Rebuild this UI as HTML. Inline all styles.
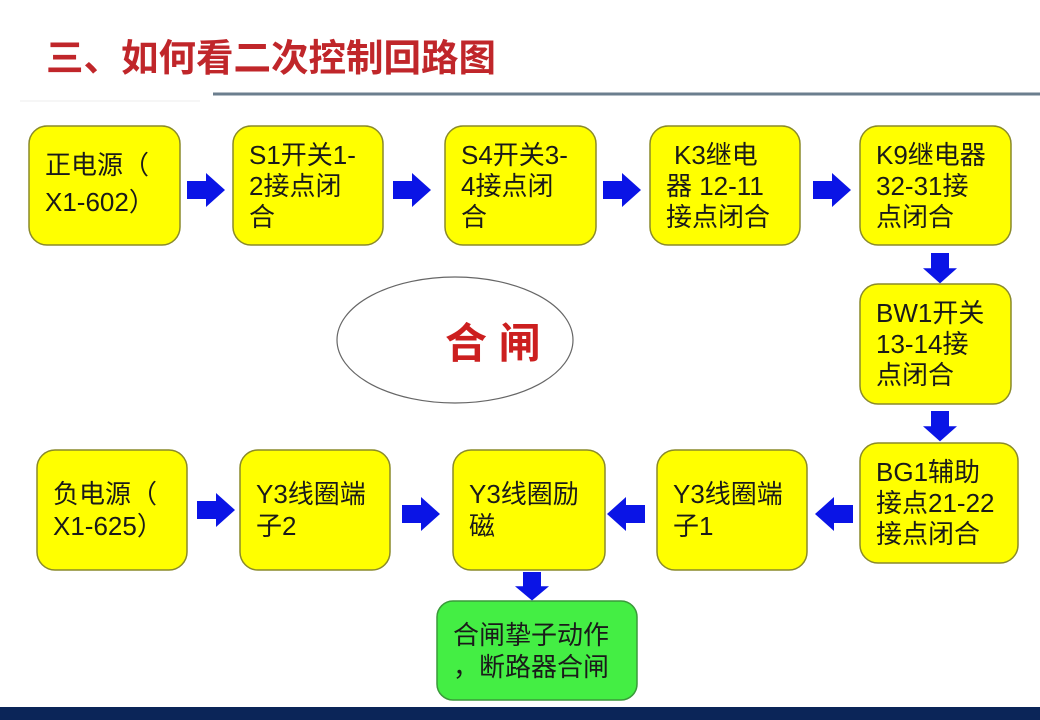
<!DOCTYPE html>
<html><head><meta charset="utf-8"><style>
html,body{margin:0;padding:0;background:#fff;}
svg{display:block;}
.t{font-family:"Liberation Sans","Noto Sans CJK SC",sans-serif;font-size:26px;fill:#1a1a1a;}
</style></head><body>
<svg width="1040" height="720" viewBox="0 0 1040 720" xmlns="http://www.w3.org/2000/svg">
<defs>
<g id="ar"><polygon points="0,-9 19,-9 19,-17 38,0 19,17 19,9 0,9" fill="#0a14e6"/></g>
</defs>
<rect width="1040" height="720" fill="#fff"/>
<text x="46" y="71" font-family="'Liberation Sans','Noto Sans CJK SC',sans-serif" font-size="37.5" font-weight="bold" fill="#c0262a">三、如何看二次控制回路图</text>
<line x1="213" y1="94" x2="1040" y2="94" stroke="#6b7e8e" stroke-width="3"/>
<line x1="20" y1="101" x2="200" y2="101" stroke="#eee" stroke-width="1"/>

<g stroke="#8a8a2a" stroke-width="1.5" fill="#ffff00">
<rect x="29" y="126" width="151" height="119" rx="18"/>
<rect x="233" y="126" width="150" height="119" rx="18"/>
<rect x="445" y="126" width="151" height="119" rx="18"/>
<rect x="650" y="126" width="150" height="119" rx="18"/>
<rect x="860" y="126" width="151" height="119" rx="18"/>
<rect x="860" y="284" width="151" height="120" rx="18"/>
<rect x="860" y="443" width="158" height="120" rx="18"/>
<rect x="37" y="450" width="150" height="120" rx="18"/>
<rect x="240" y="450" width="150" height="120" rx="18"/>
<rect x="453" y="450" width="152" height="120" rx="18"/>
<rect x="657" y="450" width="150" height="120" rx="18"/>
</g>
<rect x="437" y="601" width="200" height="99" rx="16" fill="#44ee44" stroke="#3a9a3a" stroke-width="1.5"/>

<ellipse cx="455" cy="340" rx="118" ry="63" fill="#fff" stroke="#666" stroke-width="1.2"/>
<text x="445" y="358" font-family="'Liberation Sans','Noto Sans CJK SC',sans-serif" font-size="42" font-weight="bold" fill="#cc1f1f">合 闸</text>

<g class="t">
<text x="45" y="174">正电源（</text><text x="45" y="211">X1-602）</text>
<text x="249" y="164">S1开关1-</text><text x="249" y="195">2接点闭</text><text x="249" y="226">合</text>
<text x="461" y="164">S4开关3-</text><text x="461" y="195">4接点闭</text><text x="461" y="226">合</text>
<text x="674" y="164">K3继电</text><text x="666" y="195">器 12-11</text><text x="666" y="226">接点闭合</text>
<text x="876" y="164">K9继电器</text><text x="876" y="195">32-31接</text><text x="876" y="226">点闭合</text>
<text x="876" y="322">BW1开关</text><text x="876" y="353">13-14接</text><text x="876" y="384">点闭合</text>
<text x="876" y="481">BG1辅助</text><text x="876" y="512">接点21-22</text><text x="876" y="543">接点闭合</text>
<text x="53" y="503">负电源（</text><text x="53" y="535">X1-625）</text>
<text x="469" y="503">Y3线圈励</text><text x="469" y="535">磁</text>
<text x="256" y="503">Y3线圈端</text><text x="256" y="535">子2</text>
<text x="673" y="503">Y3线圈端</text><text x="673" y="535">子1</text>
<text x="453" y="644">合闸挚子动作</text><text x="453" y="676">，断路器合闸</text>
</g>

<use href="#ar" x="187" y="190"/>
<use href="#ar" x="393" y="190"/>
<use href="#ar" x="603" y="190"/>
<use href="#ar" x="813" y="190"/>
<use href="#ar" transform="translate(940,253) rotate(90) scale(0.8,1)"/>
<use href="#ar" transform="translate(940,411) rotate(90) scale(0.8,1)"/>
<use href="#ar" x="197" y="510"/>
<use href="#ar" x="402" y="514"/>
<use href="#ar" transform="translate(645,514) rotate(180)"/>
<use href="#ar" transform="translate(853,514) rotate(180)"/>
<use href="#ar" transform="translate(532,572) rotate(90) scale(0.75,1)"/>

<rect x="0" y="707" width="1040" height="13" fill="#0b2558"/>
</svg>
</body></html>
